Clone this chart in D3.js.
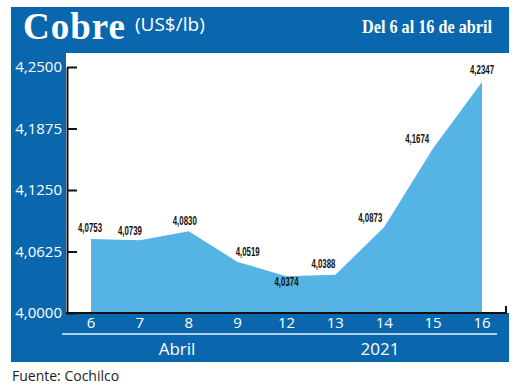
<!DOCTYPE html>
<html>
<head>
<meta charset="utf-8">
<script src="https://cdn.jsdelivr.net/npm/d3@7"></script>
<style>
  body { margin: 0; background: #fff; }
  svg { display: block; }
</style>
</head>
<body>
<div id="chart"></div>
<script>
const days = ['6', '7', '8', '9', '12', '13', '14', '15', '16']
const prices = [4.0753, 4.0739, 4.0830, 4.0519, 4.0374, 4.0388, 4.0873, 4.1674, 4.2347]
const yTicks = [4.0, 4.0625, 4.125, 4.1875, 4.25]
const monthLabel = 'Abril'
const yearLabel = '2021'

const width = 520
const height = 388
const darkBlue = '#0b67ad'
const areaBlue = '#56b4e4'
const fmt = v => d3.format('.4f')(v).replace('.', ',')

const svg = d3.select('#chart')
  .append('svg')
  .attr('width', width)
  .attr('height', height)

// blue frame + white plot panel
svg.append('rect')
  .attr('x', 11).attr('y', 7)
  .attr('width', 498).attr('height', 355)
  .attr('fill', darkBlue)

svg.append('rect')
  .attr('x', 66).attr('y', 53)
  .attr('width', 454).attr('height', 260)
  .attr('fill', '#fff')

const x = d3.scalePoint()
  .domain(days)
  .range([91, 482])

const y = d3.scaleLinear()
  .domain([4.0, 4.25])
  .range([313, 67])

const data = days.map((d, i) => ({ day: d, value: prices[i] }))

const area = d3.area()
  .x(d => x(d.day))
  .y0(y(4.0))
  .y1(d => y(d.value))

svg.append('path')
  .datum(data)
  .attr('d', area)
  .attr('fill', areaBlue)

// y axis: ticks inward, labels in the blue strip
const yAxis = svg.append('g')
  .attr('transform', 'translate(67,0)')
  .call(d3.axisLeft(y)
    .tickValues(yTicks)
    .tickFormat(fmt)
    .tickSizeInner(-10)
    .tickSizeOuter(0)
    .tickPadding(5))

yAxis.select('.domain')
  .attr('stroke', '#111')
  .attr('stroke-width', 2)
yAxis.selectAll('.tick line')
  .attr('stroke', '#111')
  .attr('stroke-width', 2)
yAxis.selectAll('.tick text')
  .attr('fill', '#fff')
  .attr('font-family', '"Open Sans", sans-serif')
  .attr('font-size', 15)

// bottom axis line with end tick
svg.append('path')
  .attr('d', `M66,${y(4.0)}H506V${y(4.0) - 7}`)
  .attr('fill', 'none')
  .attr('stroke', '#111')
  .attr('stroke-width', 2)

// day labels in the bottom band
svg.append('g')
  .selectAll('text')
  .data(days)
  .join('text')
  .attr('x', d => x(d))
  .attr('y', 328)
  .attr('text-anchor', 'middle')
  .attr('fill', '#fff')
  .attr('font-family', '"Open Sans", sans-serif')
  .attr('font-size', 15)
  .text(d => d)

svg.append('line')
  .attr('x1', 62).attr('x2', 497)
  .attr('y1', 334).attr('y2', 334)
  .attr('stroke', '#e8f2fa')
  .attr('stroke-width', 1.5)

svg.append('text')
  .attr('x', 177).attr('y', 355)
  .attr('text-anchor', 'middle')
  .attr('fill', '#fff')
  .attr('font-family', '"Open Sans", sans-serif')
  .attr('font-size', 17)
  .text(monthLabel)

svg.append('text')
  .attr('x', 380).attr('y', 355)
  .attr('text-anchor', 'middle')
  .attr('fill', '#fff')
  .attr('font-family', '"Open Sans", sans-serif')
  .attr('font-size', 17)
  .text(yearLabel)

// value labels, nudged by hand like the original
const labelOffsets = [[-1, -7], [-10, -5], [-4, -6], [10, -6], [0, 10], [-12, -7], [-14, -5], [-16, -5], [0, -8]]

svg.append('g')
  .selectAll('text')
  .data(data)
  .join('text')
  .attr('x', (d, i) => x(d.day) + labelOffsets[i][0])
  .attr('y', (d, i) => y(d.value) + labelOffsets[i][1])
  .attr('text-anchor', 'middle')
  .attr('fill', '#111')
  .attr('font-family', '"Liberation Sans Narrow", sans-serif')
  .attr('font-weight', 'bold')
  .attr('font-size', 12)
  .attr('textLength', 24)
  .attr('lengthAdjust', 'spacingAndGlyphs')
  .text(d => fmt(d.value))

// header
svg.append('text')
  .attr('x', 23).attr('y', 39)
  .attr('fill', '#fff')
  .attr('font-family', '"Liberation Serif", serif')
  .attr('font-weight', 'bold')
  .attr('font-size', 37)
  .attr('letter-spacing', 1)
  .text('Cobre')

svg.append('text')
  .attr('x', 135).attr('y', 31)
  .attr('fill', '#fff')
  .attr('font-family', '"Open Sans", sans-serif')
  .attr('font-size', 19)
  .text('(US$/lb)')

svg.append('text')
  .attr('x', 492).attr('y', 33)
  .attr('text-anchor', 'end')
  .attr('fill', '#fff')
  .attr('font-family', '"Liberation Serif", serif')
  .attr('font-weight', 'bold')
  .attr('font-size', 19)
  .attr('textLength', 130)
  .attr('lengthAdjust', 'spacingAndGlyphs')
  .text('Del 6 al 16 de abril')

svg.append('text')
  .attr('x', 12).attr('y', 381)
  .attr('fill', '#222')
  .attr('font-family', '"Open Sans", sans-serif')
  .attr('font-size', 14)
  .text('Fuente: Cochilco')
</script>
</body>
</html>
